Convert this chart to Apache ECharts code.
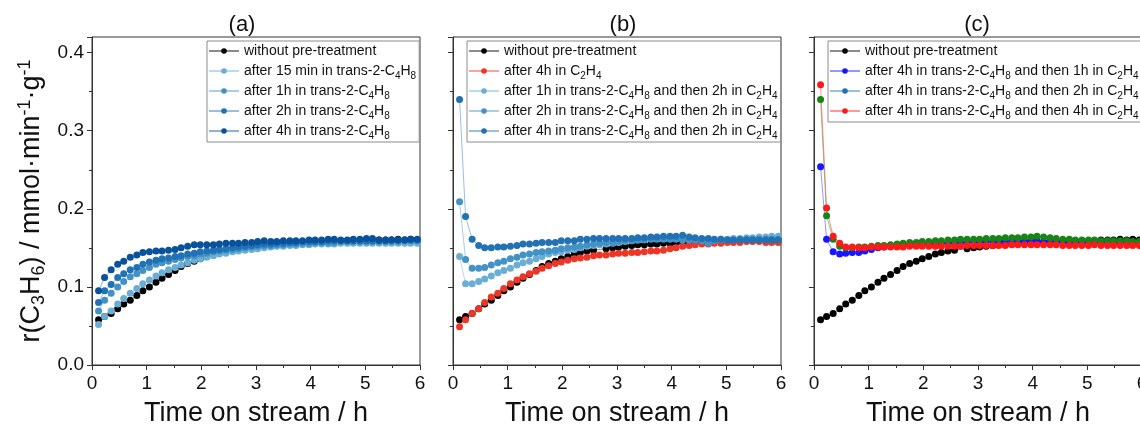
<!DOCTYPE html>
<html>
<head>
<meta charset="utf-8">
<script src="https://cdn.jsdelivr.net/npm/echarts@6.0.0/dist/echarts.min.js"></script>
<style>
  html, body { margin: 0; padding: 0; background: #fff; }
  #chart { width: 1140px; height: 425px; }
</style>
</head>
<body>
<div id="chart"></div>
<script>
// time on stream (h), shared by every series
const times = [0.12, 0.23, 0.35, 0.47, 0.58, 0.70, 0.82, 0.93, 1.05, 1.17,
  1.28, 1.40, 1.52, 1.63, 1.75, 1.87, 1.98, 2.10, 2.22, 2.33,
  2.45, 2.57, 2.68, 2.80, 2.92, 3.03, 3.15, 3.27, 3.38, 3.50,
  3.62, 3.73, 3.85, 3.97, 4.08, 4.20, 4.32, 4.43, 4.55, 4.67,
  4.78, 4.90, 5.02, 5.13, 5.25, 5.37, 5.48, 5.60, 5.72, 5.83, 5.95]

const panelTitles = ['(a)', '(b)', '(c)']
const xTicks = [0, 1, 2, 3, 4, 5, 6]
const yTicks = [0.0, 0.1, 0.2, 0.3, 0.4]

// without pre-treatment (same run in every panel)
const noPre = [0.058, 0.062, 0.066, 0.072, 0.078, 0.083, 0.089, 0.095, 0.100, 0.106,
  0.111, 0.116, 0.121, 0.126, 0.130, 0.133, 0.136, 0.139, 0.142, 0.144,
  0.146, 0.147, null, 0.149, 0.150, 0.151, 0.152, 0.153, 0.154, 0.154,
  0.155, 0.155, 0.156, 0.156, 0.157, 0.157, 0.158, 0.158, 0.158, 0.159,
  0.159, 0.159, 0.159, 0.159, 0.160, 0.160, 0.160, 0.161, 0.160, 0.161, 0.160]

// (a) after trans-2-C4H8
const a15min = [0.052, 0.062, 0.069, 0.078, 0.085, 0.092, 0.098, 0.104, 0.109, 0.114,
  0.118, 0.122, 0.125, 0.128, 0.131, 0.134, 0.136, 0.138, 0.140, 0.142,
  0.143, 0.145, 0.146, 0.147, 0.148, 0.149, 0.150, 0.151, 0.152, 0.152,
  0.153, 0.153, 0.154, 0.154, 0.155, 0.155, 0.155, 0.155, 0.156, 0.156,
  0.156, 0.156, 0.156, 0.156, 0.156, 0.156, 0.156, 0.156, 0.156, 0.156, 0.156]
const a1h = [0.069, 0.083, 0.092, 0.100, 0.107, 0.113, 0.117, 0.121, 0.125, 0.129,
  0.131, 0.133, 0.135, 0.137, 0.139, 0.140, 0.142, 0.143, 0.145, 0.146,
  0.147, 0.148, 0.149, 0.150, 0.151, 0.152, 0.153, 0.153, 0.154, 0.154,
  0.155, 0.155, 0.156, 0.156, 0.157, 0.157, 0.157, 0.157, 0.158, 0.158,
  0.158, 0.158, 0.158, 0.158, 0.158, 0.158, 0.158, 0.158, 0.159, 0.159, 0.159]
const a2h = [0.080, 0.095, 0.103, 0.112, 0.117, 0.122, 0.125, 0.129, 0.132, 0.134,
  0.136, 0.137, 0.139, 0.140, 0.142, 0.143, 0.145, 0.146, 0.147, 0.148,
  0.149, 0.150, 0.151, 0.152, 0.153, 0.154, 0.155, 0.155, 0.156, 0.156,
  0.157, 0.157, 0.158, 0.158, 0.158, 0.158, 0.159, 0.159, 0.159, 0.159,
  0.159, 0.159, 0.159, 0.159, 0.159, 0.159, 0.160, 0.160, 0.160, 0.160, 0.160]
const a4h = [0.095, 0.112, 0.122, 0.129, 0.133, 0.138, 0.141, 0.144, 0.145, 0.146,
  0.146, 0.147, 0.148, 0.150, 0.152, 0.154, 0.154, 0.154, 0.154, 0.155,
  0.156, 0.156, 0.156, 0.157, 0.157, 0.158, 0.159, 0.158, 0.158, 0.159,
  0.159, 0.159, 0.159, 0.160, 0.160, 0.160, 0.161, 0.161, 0.160, 0.160,
  0.161, 0.161, 0.162, 0.162, 0.160, 0.160, 0.160, 0.160, 0.160, 0.161, 0.161]

// (b) C2H4 treatments
const b4hEthene = [0.049, 0.058, 0.066, 0.072, 0.080, 0.087, 0.092, 0.098, 0.104, 0.109,
  0.113, 0.117, 0.120, 0.124, 0.127, 0.130, 0.132, 0.134, 0.136, 0.137,
  0.138, 0.140, 0.141, 0.141, 0.142, 0.143, 0.143, 0.144, 0.144, 0.145,
  0.146, 0.146, 0.147, 0.149, 0.150, 0.152, 0.153, 0.154, 0.155, 0.155,
  0.156, 0.156, 0.157, 0.157, 0.157, 0.158, 0.158, 0.158, 0.157, 0.157, 0.157]
const b1h2h = [0.139, 0.104, 0.104, 0.107, 0.110, 0.114, 0.118, 0.121, 0.124, 0.128,
  0.131, 0.133, 0.136, 0.139, 0.142, 0.144, 0.145, 0.147, 0.148, 0.150,
  0.152, 0.153, 0.154, 0.155, 0.156, 0.157, 0.158, 0.159, 0.160, 0.161,
  0.162, 0.162, 0.163, 0.163, 0.163, 0.163, 0.162, 0.162, 0.161, 0.161,
  0.160, 0.161, 0.161, 0.162, 0.162, 0.163, 0.163, 0.164, 0.164, 0.165, 0.165]
const b2h2h = [0.209, 0.135, 0.124, 0.124, 0.125, 0.128, 0.131, 0.133, 0.136, 0.138,
  0.141, 0.142, 0.144, 0.145, 0.146, 0.147, 0.149, 0.150, 0.151, 0.152,
  0.154, 0.155, 0.156, 0.157, 0.157, 0.158, 0.159, 0.159, 0.160, 0.160,
  0.161, 0.161, 0.161, 0.161, 0.161, 0.160, 0.160, 0.160, 0.159, 0.156,
  0.159, 0.160, 0.160, 0.160, 0.161, 0.161, 0.161, 0.161, 0.161, 0.161, 0.161]
const b4h2h = [0.340, 0.190, 0.161, 0.153, 0.150, 0.150, 0.151, 0.151, 0.152, 0.153,
  0.155, 0.155, 0.156, 0.157, 0.157, 0.157, 0.159, 0.159, 0.159, 0.161,
  0.161, 0.162, 0.162, 0.162, 0.162, 0.162, 0.162, 0.162, 0.163, 0.163,
  0.164, 0.164, 0.165, 0.165, 0.165, 0.166, 0.164, 0.163, 0.162, 0.162,
  0.161, 0.161, 0.160, 0.160, 0.160, 0.160, 0.160, 0.160, 0.160, 0.160, 0.160]

// (c) 4h trans-2-C4H8 then C2H4
const c4h1h = [0.254, 0.161, 0.145, 0.142, 0.143, 0.144, 0.144, 0.146, 0.148, 0.150,
  0.151, 0.152, 0.153, 0.153, 0.154, 0.154, 0.155, 0.155, 0.156, 0.156,
  0.156, 0.157, 0.157, 0.157, 0.158, 0.158, 0.158, 0.158, 0.158, 0.159,
  0.159, 0.159, 0.159, 0.159, 0.159, 0.158, 0.158, 0.158, 0.157, 0.157,
  0.157, 0.157, 0.157, 0.157, 0.157, 0.157, 0.157, 0.157, 0.157, 0.157, 0.157]
const c4h2h = [0.340, 0.191, 0.161, 0.152, 0.150, 0.150, 0.151, 0.151, 0.152, 0.153,
  0.153, 0.154, 0.155, 0.156, 0.157, 0.157, 0.158, 0.158, 0.159, 0.159,
  0.160, 0.160, 0.161, 0.161, 0.161, 0.161, 0.162, 0.162, 0.162, 0.163,
  0.163, 0.163, 0.164, 0.164, 0.165, 0.164, 0.163, 0.162, 0.161, 0.161,
  0.160, 0.160, 0.160, 0.160, 0.159, 0.159, 0.159, 0.159, 0.159, 0.158, 0.158]
const c4h4h = [0.359, 0.201, 0.165, 0.156, 0.151, 0.151, 0.150, 0.150, 0.151, 0.151,
  0.151, 0.151, 0.151, 0.151, 0.152, 0.152, 0.152, 0.152, 0.152, 0.152,
  0.152, 0.152, 0.152, 0.153, 0.153, 0.153, 0.153, 0.153, 0.153, 0.153,
  0.154, 0.154, 0.154, 0.154, 0.154, 0.154, 0.154, 0.154, 0.153, 0.153,
  0.153, 0.153, 0.153, 0.154, 0.153, 0.153, 0.153, 0.153, 0.153, 0.153, 0.153]

// legend names: _n marks a subscript digit
const panels = [
  [
    ['without pre-treatment', noPre, '#000000'],
    ['after 15 min in trans-2-C_4H_8', a15min, '#6aaed6'],
    ['after 1h in trans-2-C_4H_8', a1h, '#4292c6'],
    ['after 2h in trans-2-C_4H_8', a2h, '#2171b5'],
    ['after 4h in trans-2-C_4H_8', a4h, '#08519c']
  ],
  [
    ['without pre-treatment', noPre, '#000000'],
    ['after 4h in C_2H_4', b4hEthene, '#ee3526'],
    ['after 1h in trans-2-C_4H_8 and then 2h in C_2H_4', b1h2h, '#6aaed6'],
    ['after 2h in trans-2-C_4H_8 and then 2h in C_2H_4', b2h2h, '#4292c6'],
    ['after 4h in trans-2-C_4H_8 and then 2h in C_2H_4', b4h2h, '#2171b5']
  ],
  [
    ['without pre-treatment', noPre, '#000000'],
    ['after 4h in trans-2-C_4H_8 and then 1h in C_2H_4', c4h1h, '#1616ff'],
    ['after 4h in trans-2-C_4H_8 and then 2h in C_2H_4', c4h2h, '#168516'],
    ['after 4h in trans-2-C_4H_8 and then 4h in C_2H_4', c4h4h, '#ff1a1a']
  ]
]

const font = 'Liberation Sans, Arial, sans-serif'
const axisColor = '#333'
const gridLeft = [92, 453, 814]
const gridTop = 37
const gridSize = 328

const grids = [], xAxes = [], yAxes = [], titles = [], legends = [], series = []

panels.forEach(function (panel, p) {
  grids.push({
    left: gridLeft[p], top: gridTop, width: gridSize, height: gridSize,
    outerBoundsMode: 'none', containLabel: false,
    show: true, borderColor: axisColor, borderWidth: 1, backgroundColor: 'transparent'
  })
  titles.push({
    text: panelTitles[p],
    left: [237, 618, 972][p], top: 9, textAlign: 'center',
    textStyle: { fontFamily: font, fontSize: 22, fontWeight: 'normal', color: '#111' }
  })
  xAxes.push({
    type: 'value', gridIndex: p, min: xTicks[0], max: xTicks[xTicks.length - 1], interval: 1,
    name: 'Time on stream / h', nameLocation: 'middle', nameGap: 35,
    nameTextStyle: { fontFamily: font, fontSize: 27, color: '#111' },
    axisLine: { onZero: false, lineStyle: { color: axisColor, width: 1 } },
    axisTick: { length: 5, lineStyle: { color: axisColor } },
    minorTick: { show: true, splitNumber: 2, length: 3, lineStyle: { color: axisColor } },
    splitLine: { show: false },
    axisLabel: { fontFamily: font, fontSize: 19, color: '#111', margin: 9 }
  })
  yAxes.push({
    type: 'value', gridIndex: p, min: yTicks[0], max: 0.42, interval: 0.1,
    name: p === 0 ? '{a|r(C}{b|3}{a|H}{b|6}{a|) / mmol·min}{c|-1}{a|·g}{c|-1}' : '',
    nameLocation: 'middle', nameGap: 44,
    nameTextStyle: {
      fontFamily: font, fontSize: 27, color: '#111',
      rich: {
        a: { fontFamily: font, fontSize: 27, lineHeight: 32, color: '#111' },
        b: { fontFamily: font, fontSize: 18, lineHeight: 14, verticalAlign: 'bottom', color: '#111' },
        c: { fontFamily: font, fontSize: 18, lineHeight: 14, verticalAlign: 'top', color: '#111' }
      }
    },
    axisLine: { lineStyle: { color: axisColor, width: 1 } },
    axisTick: { length: 5, lineStyle: { color: axisColor } },
    minorTick: { show: true, splitNumber: 2, length: 3, lineStyle: { color: axisColor } },
    splitLine: { show: false },
    axisLabel: {
      show: p === 0, fontFamily: font, fontSize: 19, color: '#111', margin: 8,
      showMaxLabel: false,
      formatter: function (v) { return yTicks.indexOf(v) >= 0 ? v.toFixed(1) : '' }
    }
  })
  legends.push({
    orient: 'vertical',
    left: [207, 467, 828][p], top: 41,
    data: panel.map(function (s) { return s[0] }),
    itemWidth: 30, itemHeight: 7, itemGap: 0,
    padding: [0, 3, 1, 1],
    borderColor: '#8c8c8c', borderWidth: 1, backgroundColor: '#fff',
    formatter: function (name) { return name.replace(/_(\d)/g, '{s|$1}') },
    textStyle: {
      fontFamily: font, fontSize: 14, lineHeight: 20, color: '#111',
      rich: { s: { fontFamily: font, fontSize: 10, lineHeight: 10, verticalAlign: 'bottom', color: '#111' } }
    }
  })
  panel.forEach(function (s) {
    series.push({
      name: s[0], type: 'line', xAxisIndex: p, yAxisIndex: p,
      data: times.map(function (t, i) { return [t, s[1][i]] }),
      connectNulls: true,
      symbol: 'circle', symbolSize: 7,
      itemStyle: { color: s[2] },
      lineStyle: { color: s[2], width: 1, opacity: 0.45 },
      emphasis: { disabled: true }
    })
  })
})

const chart = echarts.init(document.getElementById('chart'))
chart.setOption({
  animation: false,
  backgroundColor: '#fff',
  title: titles,
  grid: grids,
  xAxis: xAxes,
  yAxis: yAxes,
  legend: legends,
  series: series
})
</script>
</body>
</html>
